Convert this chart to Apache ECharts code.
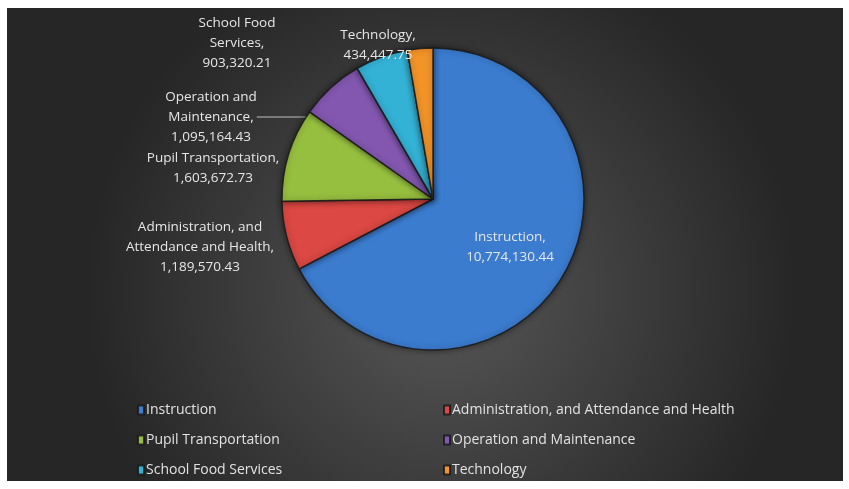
<!DOCTYPE html>
<html><head><meta charset="utf-8">
<script src="https://cdn.jsdelivr.net/npm/echarts@6/dist/echarts.min.js"></script>
<style>html,body{margin:0;padding:0;background:#fff}#c{width:849px;height:489px}</style>
</head><body><div id="c"></div>
<script>
const categories = ["Instruction","Administration, and Attendance and Health","Pupil Transportation","Operation and Maintenance","School Food Services","Technology"];
const values = [10774130.44, 1189570.43, 1603672.73, 1095164.43, 903320.21, 434447.75];
const labelNames = ["Instruction,","Administration, and\nAttendance and Health,","Pupil Transportation,","Operation and\nMaintenance,","School Food\nServices,","Technology,"];
const colors = ["#3b7ccf","#dc4843","#97bf3f","#8357b0","#33b2d6","#f39428"];

// label placement (layout only)
const labelPos = [[510,247],[200,247],[213,168],[211,117],[237,43],[378,45]];

const fmt = v => v.toLocaleString('en-US',{minimumFractionDigits:2,maximumFractionDigits:2});
const FONT = "'Open Sans', sans-serif";

const chart = echarts.init(document.getElementById('c'), null, {renderer:'canvas'});
chart.setOption({
  backgroundColor:'#ffffff',
  animation:false,
  graphic:[{
    type:'rect', z:-10, silent:true,
    shape:{x:7,y:8,width:836,height:473},
    style:{fill:new echarts.graphic.RadialGradient(0.52,0.6,0.75,[
      {offset:0,color:'#575757'},{offset:1,color:'#262626'}])}
  }],
  legend:[
    {data:[categories[0],categories[2],categories[4]], orient:'vertical', left:132, top:398,
     itemWidth:6, itemHeight:9, itemGap:16, icon:'rect',
     textStyle:{color:'#e2e2e2', fontSize:14, fontFamily:FONT, padding:[0,0,0,-3]}},
    {data:[categories[1],categories[3],categories[5]], orient:'vertical', left:438, top:398,
     itemWidth:6, itemHeight:9, itemGap:16, icon:'rect',
     textStyle:{color:'#e2e2e2', fontSize:14, fontFamily:FONT, padding:[0,0,0,-3]}}
  ],
  series:[{
    type:'pie',
    center:[433,199],
    radius:151,
    startAngle:90,
    clockwise:true,
    avoidLabelOverlap:false,
    itemStyle:{borderColor:'rgba(25,25,25,0.85)', borderWidth:1.5,
      shadowColor:'rgba(0,0,0,0.5)', shadowBlur:6},
    label:{show:true, position:'outside', color:'#e6e6e6', fontSize:13.5, fontFamily:FONT,
      lineHeight:20, align:'center',
      formatter:p => labelNames[p.dataIndex] + '\n' + fmt(p.value)},
    labelLine:{show:false},
    labelLayout:p => ({x:labelPos[p.dataIndex][0], y:labelPos[p.dataIndex][1], align:'center', verticalAlign:'middle'}),
    data:categories.map((c,i)=>({
      name:c, value:values[i],
      itemStyle:{color:colors[i]},
      labelLine: i===3 ? {show:true, length:12, length2:50, lineStyle:{color:'#bfbfbf', width:1}} : {show:false}
    }))
  }]
});
</script></body></html>
